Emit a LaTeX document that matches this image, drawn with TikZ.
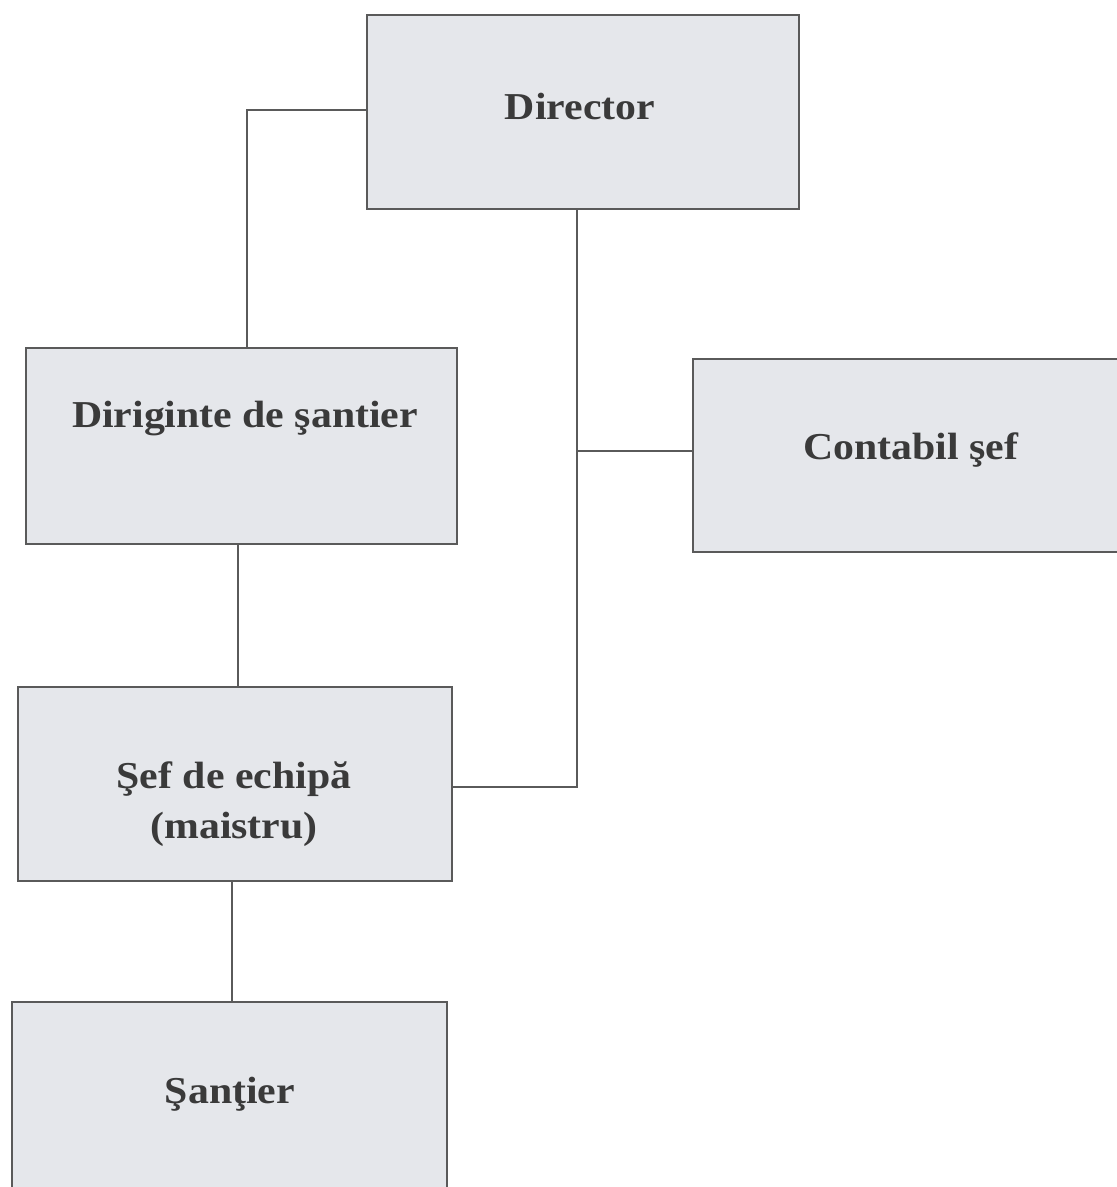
\documentclass[tikz,border=0pt]{standalone}
\usepackage{fontspec}
\setmainfont{Liberation Serif}[FakeStretch=1.1]
\definecolor{boxfill}{HTML}{E5E7EB}
\definecolor{boxline}{HTML}{5A5A5A}
\definecolor{txt}{HTML}{3A3A3A}
\tikzset{
  orgbox/.style={draw=boxline, line width=1.6pt, fill=boxfill, rectangle, inner sep=0pt},
  orgtext/.style={text=txt, font=\bfseries\fontsize{38}{50}\selectfont, inner sep=0pt, align=center},
  link/.style={draw=boxline, line width=1.5pt}
}
\begin{document}
\begin{tikzpicture}[x=1pt,y=-1pt]
\useasboundingbox (0,0) rectangle (1117,1187);
\clip (0,0) rectangle (1117,1187);
\fill[white] (0,0) rectangle (1117,1187);
% boxes
\node[orgbox, minimum width=432pt, minimum height=194pt] (dir) at (583,112) {};
\node[orgbox, minimum width=431pt, minimum height=196pt] (dirig) at (241.5,446) {};
\node[orgbox, minimum width=450pt, minimum height=193pt] (cont) at (918,455.5) {};
\node[orgbox, minimum width=434pt, minimum height=194pt] (sef) at (235,784) {};
\node[orgbox, minimum width=435pt, minimum height=240pt] (sant) at (229.5,1122) {};
% texts
\node[orgtext, anchor=base] (dirT) at (580,119) {Director};
\node[orgtext, anchor=base] (dirigT) at (245,427) {Diriginte de şantier};
\node[orgtext, anchor=base] (contT) at (911,459) {Contabil şef};
\node[orgtext, anchor=center] (sefT) at (234,804) {Şef de echipă\\(maistru)};
\node[orgtext, anchor=base] (santT) at (230,1103) {Şanţier};
% connectors
\coordinate (j1) at (247,110);
\coordinate (j2) at (577,451);
\coordinate (j3) at (577,787);
\draw[link] (dir.west |- j1) -- (j1) -- (j1 |- dirig.north);
\draw[link] (dir.south -| j2) -- (j2) -- (j3) -- (j3 -| sef.east);
\draw[link] (j2) -- (j2 -| cont.west);
\draw[link] (238,544 |- dirig.south) -- (238,687 |- sef.north);
\draw[link] (232,881 |- sef.south) -- (232,1002 |- sant.north);
\end{tikzpicture}
\end{document}
